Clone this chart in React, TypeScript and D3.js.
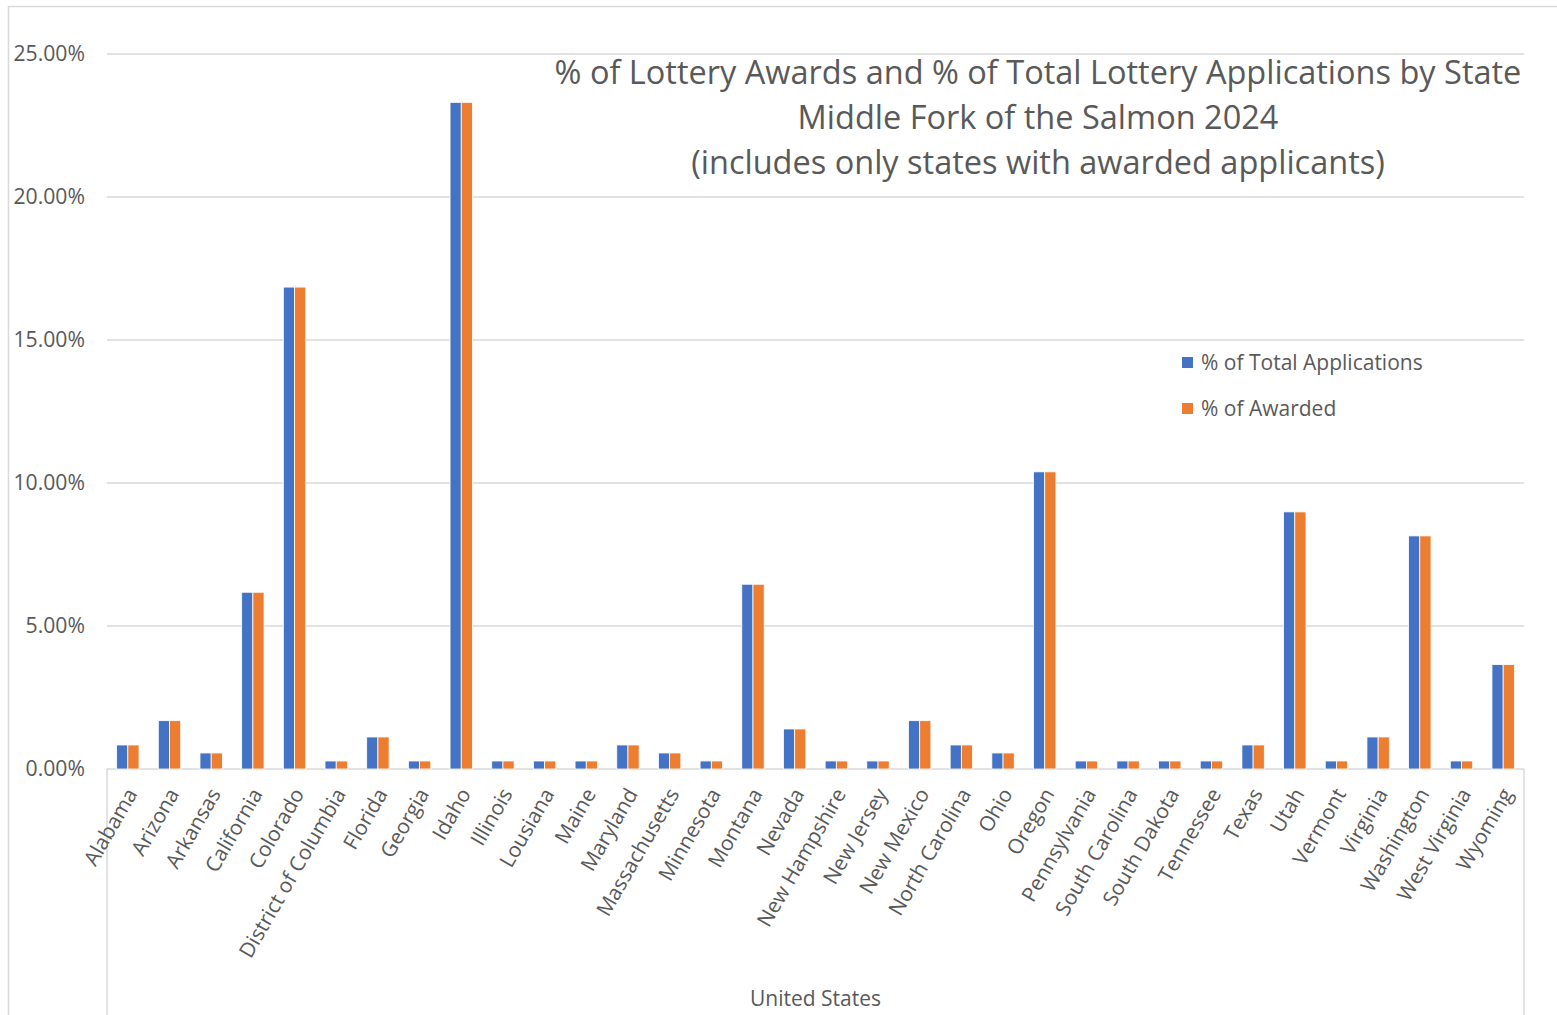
import React from 'react';
import * as d3 from 'd3';

// categories (x axis)
const STATES = [
  'Alabama', 'Arizona', 'Arkansas', 'California', 'Colorado', 'District of Columbia',
  'Florida', 'Georgia', 'Idaho', 'Illinois', 'Lousiana', 'Maine', 'Maryland',
  'Massachusetts', 'Minnesota', 'Montana', 'Nevada', 'New Hampshire', 'New Jersey',
  'New Mexico', 'North Carolina', 'Ohio', 'Oregon', 'Pennsylvania', 'South Carolina',
  'South Dakota', 'Tennessee', 'Texas', 'Utah', 'Vermont', 'Virginia', 'Washington',
  'West Virginia', 'Wyoming',
];

// % of total applications
const PCT_APPLICATIONS = [
  0.84, 1.69, 0.56, 6.18, 16.85, 0.28, 1.12, 0.28, 23.31, 0.28, 0.28, 0.28, 0.84,
  0.56, 0.28, 6.46, 1.40, 0.28, 0.28, 1.69, 0.84, 0.56, 10.39, 0.28, 0.28,
  0.28, 0.28, 0.84, 8.99, 0.28, 1.12, 8.15, 0.28, 3.65,
];

// % of awarded (same as applications in this chart)
const PCT_AWARDED = [
  0.84, 1.69, 0.56, 6.18, 16.85, 0.28, 1.12, 0.28, 23.31, 0.28, 0.28, 0.28, 0.84,
  0.56, 0.28, 6.46, 1.40, 0.28, 0.28, 1.69, 0.84, 0.56, 10.39, 0.28, 0.28,
  0.28, 0.28, 0.84, 8.99, 0.28, 1.12, 8.15, 0.28, 3.65,
];

const Y_TICKS = [0, 5, 10, 15, 20, 25];

const SERIES = [
  { name: '% of Total Applications', color: '#4472C4', values: PCT_APPLICATIONS },
  { name: '% of Awarded', color: '#ED7D31', values: PCT_AWARDED },
];

const TITLE_LINES = [
  '% of Lottery Awards and % of Total Lottery Applications by State',
  'Middle Fork of the Salmon 2024',
  '(includes only states with awarded applicants)',
];

const W = 1557;
const H = 1015;
const FONT = '"Open Sans", "Liberation Sans", sans-serif';
const TEXT = '#595959';
const GRID = '#d9d9d9';

export default function App() {
  const plot = { left: 107, right: 1524, top: 54, bottom: 769 };

  const x = d3.scaleBand<string>()
    .domain(STATES)
    .range([plot.left, plot.right])
    .paddingInner(0)
    .paddingOuter(0);

  const barW = 11.2;
  const xSeries = d3.scaleBand<number>()
    .domain(d3.range(SERIES.length))
    .range([x.bandwidth() / 2 - barW, x.bandwidth() / 2 + barW]);

  const y = d3.scaleLinear().domain([0, 25]).range([plot.bottom, plot.top]);
  const fmt = (v: number) => d3.format('.2f')(v) + '%';

  return (
    <svg
      width={W}
      height={H}
      style={{ position: 'absolute', left: 0, top: 0, background: '#fff' }}
      fontFamily={FONT}
    >
      {/* chart frame */}
      <rect x={8.5} y={6.5} width={W + 20} height={H + 20} fill="#fff" stroke={GRID} strokeWidth={1.5} />

      {/* gridlines */}
      {Y_TICKS.map(t => (
        <line key={t} x1={plot.left} x2={plot.right} y1={y(t)} y2={y(t)} stroke={GRID} strokeWidth={1.5} />
      ))}

      {/* y tick labels */}
      {Y_TICKS.map(t => (
        <text key={t} x={85} y={y(t)} dy="0.35em" textAnchor="end" fontSize={21.2} fill={TEXT}>
          {fmt(t)}
        </text>
      ))}

      {/* category group box */}
      <line x1={plot.left} x2={plot.left} y1={plot.bottom} y2={H + 5} stroke={GRID} strokeWidth={1.5} />
      <line x1={plot.right} x2={plot.right} y1={plot.bottom} y2={H + 5} stroke={GRID} strokeWidth={1.5} />

      {/* bars */}
      {SERIES.map((s, si) => (
        <g key={s.name}>
          {STATES.map((st, i) => (
            <rect
              key={st}
              x={(x(st) ?? 0) + (xSeries(si) ?? 0)}
              y={y(s.values[i])}
              width={xSeries.bandwidth()}
              height={y(0) - y(s.values[i])}
              fill={s.color}
              stroke="#fff"
              strokeWidth={0.8}
            />
          ))}
        </g>
      ))}

      {/* x tick labels */}
      {STATES.map(st => {
        const cx = (x(st) ?? 0) + x.bandwidth() / 2 + 4;
        return (
          <text
            key={st}
            transform={`translate(${cx},${plot.bottom + 21}) rotate(-60)`}
            dy="0.35em"
            textAnchor="end"
            fontSize={20.8}
            fill={TEXT}
          >
            {st}
          </text>
        );
      })}

      <text x={(plot.left + plot.right) / 2} y={1006} textAnchor="middle" fontSize={21} fill={TEXT}>
        United States
      </text>

      {/* title */}
      {TITLE_LINES.map((line, i) => (
        <text key={i} x={1038} y={84 + i * 45} textAnchor="middle" fontSize={32.5} fill={TEXT}>
          {line}
        </text>
      ))}

      {/* legend */}
      {SERIES.map((s, i) => (
        <g key={s.name} transform={`translate(1182,${357 + i * 46})`}>
          <rect width={11} height={11} fill={s.color} />
          <text x={19} y={5.5} dy="0.35em" fontSize={21} fill={TEXT}>{s.name}</text>
        </g>
      ))}
    </svg>
  );
}
